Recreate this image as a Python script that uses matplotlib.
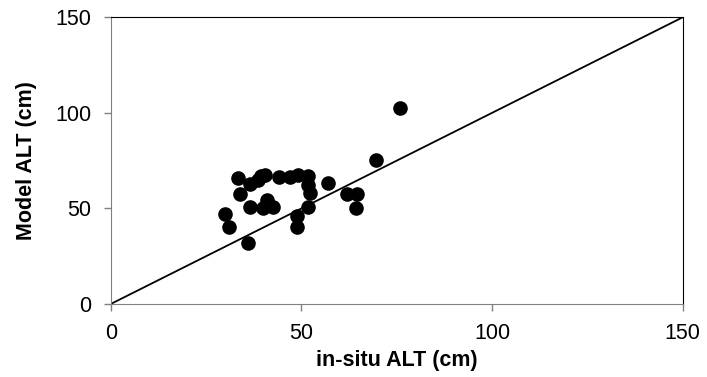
import matplotlib
matplotlib.use("Agg")
import matplotlib.pyplot as plt

plt.rcParams['font.family'] = ['Liberation Sans', 'DejaVu Sans']

insitu = [75.9, 69.5, 33.5, 33.9, 30.0, 31.1, 35.9, 36.5, 36.5, 38.7, 40.5, 39.3,
          40.9, 40.0, 42.6, 44.2, 47.0, 49.2, 51.8, 51.8, 52.3, 51.8, 48.8, 48.8,
          56.9, 61.9, 64.7, 64.3]
model = [102.6, 75.1, 65.9, 57.5, 47.2, 40.5, 32.1, 50.5, 62.8, 64.7, 67.6, 67.1,
         54.5, 50.2, 51.0, 66.4, 66.4, 67.6, 66.8, 62.4, 58.0, 50.7, 45.8, 40.5,
         63.3, 57.7, 57.7, 50.2]
ticks = [0, 50, 100, 150]

fig = plt.figure(figsize=(7.07, 3.77), dpi=100)
ax = fig.add_axes([0.1566, 0.1936, 0.809, 0.7605])
ax.plot([0, 150], [0, 150], color='black', lw=1.3, zorder=2)
ax.scatter(insitu, model, s=90, color='black', zorder=3, clip_on=False)
ax.set_xlim(0, 150)
ax.set_ylim(0, 150)
ax.set_xticks(ticks)
ax.set_yticks(ticks)
ax.tick_params(direction='out', length=5, width=1, colors='#808080', labelcolor='black', labelsize=15.5)
ax.tick_params(axis='x', pad=9)
ax.tick_params(axis='y', pad=9)
for s in ['left', 'bottom']:
    ax.spines[s].set_color('#808080')
for s in ['top', 'right']:
    ax.spines[s].set_color('black')
ax.set_xlabel('in-situ ALT (cm)', fontsize=15.5, fontweight='bold', labelpad=4)
ax.set_ylabel('Model ALT (cm)', fontsize=15.5, fontweight='bold', labelpad=13)
fig.savefig('out.png', dpi=100)
